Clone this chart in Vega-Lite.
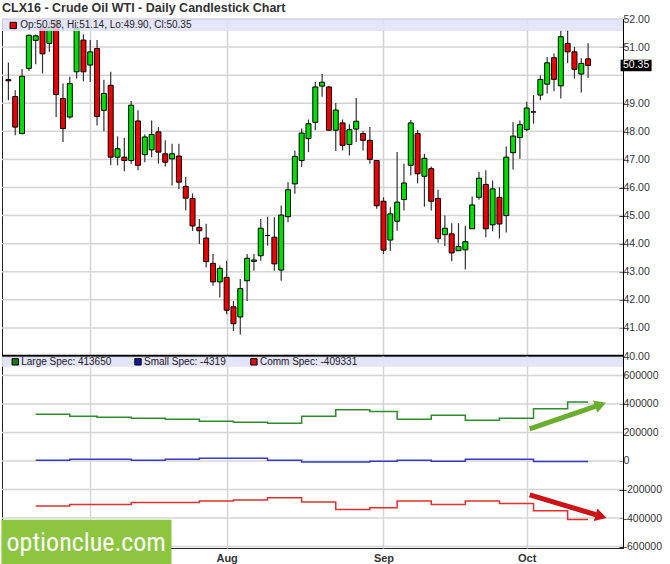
{
  "$schema": "https://vega.github.io/schema/vega-lite/v6.json",
  "background": "white",
  "padding": {"left": 0, "top": 2, "right": 0, "bottom": 0},
  "bounds": "flush",
  "title": {"text": "CLX16 - Crude Oil WTI - Daily Candlestick Chart", "anchor": "start", "fontSize": 12.5, "fontWeight": "bold", "font": "Liberation Sans", "color": "#333", "offset": -1, "frame": "group"},
  "config": {
    "font": "Liberation Sans",
    "view": {"stroke": "#222", "strokeWidth": 1},
    "axis": {"labelFont": "Liberation Sans", "labelFontSize": 10.5, "labelColor": "#333", "gridColor": "#d4d4d4", "gridWidth": 1.5, "gridOpacity": 1, "domainColor": "#000", "tickColor": "#000", "labelOverlap": false}
  },
  "datasets": {
    "candles": [
      {"date": "2016-06-15", "open": 49.84, "high": 50.45, "low": 49.11, "close": 49.80},
      {"date": "2016-06-16", "open": 49.24, "high": 49.46, "low": 47.86, "close": 48.15},
      {"date": "2016-06-17", "open": 47.92, "high": 50.22, "low": 47.90, "close": 49.96},
      {"date": "2016-06-20", "open": 50.24, "high": 51.45, "low": 50.15, "close": 51.42},
      {"date": "2016-06-21", "open": 51.24, "high": 51.45, "low": 50.39, "close": 51.40},
      {"date": "2016-06-22", "open": 51.70, "high": 51.95, "low": 50.06, "close": 50.76},
      {"date": "2016-06-23", "open": 51.13, "high": 51.90, "low": 50.83, "close": 51.70},
      {"date": "2016-06-24", "open": 51.95, "high": 52.00, "low": 48.51, "close": 49.31},
      {"date": "2016-06-27", "open": 49.17, "high": 49.70, "low": 47.62, "close": 48.10},
      {"date": "2016-06-28", "open": 48.51, "high": 49.94, "low": 48.45, "close": 49.70},
      {"date": "2016-06-29", "open": 50.12, "high": 51.80, "low": 49.88, "close": 51.67},
      {"date": "2016-06-30", "open": 51.25, "high": 51.45, "low": 49.78, "close": 50.12},
      {"date": "2016-07-01", "open": 50.36, "high": 51.25, "low": 49.76, "close": 50.83},
      {"date": "2016-07-05", "open": 50.95, "high": 51.25, "low": 48.21, "close": 48.53},
      {"date": "2016-07-06", "open": 48.75, "high": 49.84, "low": 48.00, "close": 49.35},
      {"date": "2016-07-07", "open": 49.64, "high": 50.12, "low": 46.79, "close": 47.08},
      {"date": "2016-07-08", "open": 47.08, "high": 47.82, "low": 46.79, "close": 47.38},
      {"date": "2016-07-11", "open": 47.08, "high": 47.77, "low": 46.58, "close": 46.96},
      {"date": "2016-07-12", "open": 46.96, "high": 49.08, "low": 46.85, "close": 48.93},
      {"date": "2016-07-13", "open": 48.37, "high": 48.75, "low": 46.61, "close": 46.79},
      {"date": "2016-07-14", "open": 47.17, "high": 47.89, "low": 46.90, "close": 47.80},
      {"date": "2016-07-15", "open": 47.34, "high": 48.39, "low": 47.08, "close": 47.89},
      {"date": "2016-07-18", "open": 47.98, "high": 48.15, "low": 46.85, "close": 47.26},
      {"date": "2016-07-19", "open": 47.20, "high": 47.68, "low": 46.75, "close": 46.90},
      {"date": "2016-07-20", "open": 47.02, "high": 47.56, "low": 46.07, "close": 47.20},
      {"date": "2016-07-21", "open": 47.12, "high": 47.56, "low": 45.95, "close": 46.19},
      {"date": "2016-07-22", "open": 46.04, "high": 46.37, "low": 45.18, "close": 45.62},
      {"date": "2016-07-25", "open": 45.61, "high": 45.79, "low": 44.45, "close": 44.63},
      {"date": "2016-07-26", "open": 44.58, "high": 44.88, "low": 43.99, "close": 44.46},
      {"date": "2016-07-27", "open": 44.20, "high": 44.71, "low": 43.15, "close": 43.36},
      {"date": "2016-07-28", "open": 43.30, "high": 43.63, "low": 42.50, "close": 42.64},
      {"date": "2016-07-29", "open": 42.64, "high": 43.21, "low": 42.08, "close": 43.12},
      {"date": "2016-08-01", "open": 42.80, "high": 43.39, "low": 41.49, "close": 41.63},
      {"date": "2016-08-02", "open": 41.75, "high": 41.96, "low": 40.89, "close": 41.15},
      {"date": "2016-08-03", "open": 41.39, "high": 42.74, "low": 40.77, "close": 42.40},
      {"date": "2016-08-04", "open": 42.68, "high": 43.63, "low": 41.96, "close": 43.48},
      {"date": "2016-08-05", "open": 43.37, "high": 43.63, "low": 43.04, "close": 43.42},
      {"date": "2016-08-08", "open": 43.57, "high": 44.88, "low": 43.39, "close": 44.55},
      {"date": "2016-08-09", "open": 44.29, "high": 44.96, "low": 43.93, "close": 44.29},
      {"date": "2016-08-10", "open": 44.23, "high": 44.94, "low": 43.04, "close": 43.28},
      {"date": "2016-08-11", "open": 43.06, "high": 45.36, "low": 42.68, "close": 45.02},
      {"date": "2016-08-12", "open": 44.96, "high": 46.19, "low": 44.76, "close": 45.92},
      {"date": "2016-08-15", "open": 46.13, "high": 47.32, "low": 45.78, "close": 47.11},
      {"date": "2016-08-16", "open": 46.96, "high": 48.10, "low": 46.73, "close": 47.94},
      {"date": "2016-08-17", "open": 47.74, "high": 48.42, "low": 47.26, "close": 48.27},
      {"date": "2016-08-18", "open": 48.32, "high": 49.76, "low": 48.04, "close": 49.58},
      {"date": "2016-08-19", "open": 49.61, "high": 50.04, "low": 49.23, "close": 49.75},
      {"date": "2016-08-22", "open": 49.58, "high": 49.62, "low": 48.02, "close": 48.04},
      {"date": "2016-08-23", "open": 48.04, "high": 49.01, "low": 47.30, "close": 48.76},
      {"date": "2016-08-24", "open": 48.30, "high": 48.42, "low": 47.32, "close": 47.50},
      {"date": "2016-08-25", "open": 47.53, "high": 48.25, "low": 47.14, "close": 48.06},
      {"date": "2016-08-26", "open": 48.08, "high": 49.19, "low": 47.62, "close": 48.36},
      {"date": "2016-08-29", "open": 47.92, "high": 48.00, "low": 47.32, "close": 47.68},
      {"date": "2016-08-30", "open": 47.68, "high": 48.15, "low": 46.85, "close": 47.00},
      {"date": "2016-08-31", "open": 46.96, "high": 46.98, "low": 45.24, "close": 45.35},
      {"date": "2016-09-01", "open": 45.51, "high": 45.65, "low": 43.63, "close": 43.77},
      {"date": "2016-09-02", "open": 44.13, "high": 45.30, "low": 43.75, "close": 45.06},
      {"date": "2016-09-06", "open": 44.80, "high": 47.26, "low": 44.46, "close": 45.48},
      {"date": "2016-09-07", "open": 45.57, "high": 46.85, "low": 45.18, "close": 46.16},
      {"date": "2016-09-08", "open": 46.79, "high": 48.40, "low": 46.43, "close": 48.30},
      {"date": "2016-09-09", "open": 47.92, "high": 48.04, "low": 46.15, "close": 46.49},
      {"date": "2016-09-12", "open": 46.40, "high": 47.20, "low": 45.32, "close": 47.04},
      {"date": "2016-09-13", "open": 46.67, "high": 46.75, "low": 45.18, "close": 45.51},
      {"date": "2016-09-14", "open": 45.61, "high": 45.92, "low": 44.03, "close": 44.18},
      {"date": "2016-09-15", "open": 44.32, "high": 45.00, "low": 43.91, "close": 44.55},
      {"date": "2016-09-16", "open": 44.35, "high": 44.73, "low": 43.37, "close": 43.67},
      {"date": "2016-09-19", "open": 43.75, "high": 44.73, "low": 43.75, "close": 43.90},
      {"date": "2016-09-20", "open": 43.78, "high": 44.64, "low": 43.08, "close": 44.07},
      {"date": "2016-09-21", "open": 44.53, "high": 45.68, "low": 44.53, "close": 45.38},
      {"date": "2016-09-22", "open": 45.65, "high": 46.55, "low": 45.56, "close": 46.33},
      {"date": "2016-09-23", "open": 46.11, "high": 46.61, "low": 44.23, "close": 44.53},
      {"date": "2016-09-26", "open": 44.67, "high": 46.25, "low": 44.44, "close": 45.95},
      {"date": "2016-09-27", "open": 45.65, "high": 46.01, "low": 44.19, "close": 44.70},
      {"date": "2016-09-28", "open": 45.00, "high": 47.46, "low": 44.40, "close": 47.08},
      {"date": "2016-09-29", "open": 47.24, "high": 48.33, "low": 46.64, "close": 47.83},
      {"date": "2016-09-30", "open": 47.78, "high": 48.39, "low": 47.02, "close": 48.24},
      {"date": "2016-10-03", "open": 48.06, "high": 49.05, "low": 48.00, "close": 48.83},
      {"date": "2016-10-04", "open": 48.69, "high": 49.29, "low": 48.27, "close": 48.69},
      {"date": "2016-10-05", "open": 49.29, "high": 50.00, "low": 49.11, "close": 49.85},
      {"date": "2016-10-06", "open": 49.68, "high": 50.65, "low": 49.35, "close": 50.44},
      {"date": "2016-10-07", "open": 50.62, "high": 50.77, "low": 49.43, "close": 49.85},
      {"date": "2016-10-10", "open": 49.62, "high": 51.61, "low": 49.17, "close": 51.37},
      {"date": "2016-10-11", "open": 51.13, "high": 51.61, "low": 50.42, "close": 50.83},
      {"date": "2016-10-12", "open": 50.83, "high": 51.01, "low": 49.88, "close": 50.21},
      {"date": "2016-10-13", "open": 50.04, "high": 50.60, "low": 49.38, "close": 50.42},
      {"date": "2016-10-14", "open": 50.58, "high": 51.14, "low": 49.90, "close": 50.35}
    ],
    "cot": [
      {"date": "2016-06-21", "series": "Large Spec", "value": 328000},
      {"date": "2016-06-28", "series": "Large Spec", "value": 314000},
      {"date": "2016-07-05", "series": "Large Spec", "value": 307000},
      {"date": "2016-07-12", "series": "Large Spec", "value": 300000},
      {"date": "2016-07-19", "series": "Large Spec", "value": 293000},
      {"date": "2016-07-26", "series": "Large Spec", "value": 279000},
      {"date": "2016-08-02", "series": "Large Spec", "value": 272000},
      {"date": "2016-08-09", "series": "Large Spec", "value": 265000},
      {"date": "2016-08-16", "series": "Large Spec", "value": 314000},
      {"date": "2016-08-23", "series": "Large Spec", "value": 360000},
      {"date": "2016-08-30", "series": "Large Spec", "value": 347000},
      {"date": "2016-09-06", "series": "Large Spec", "value": 293000},
      {"date": "2016-09-13", "series": "Large Spec", "value": 321000},
      {"date": "2016-09-20", "series": "Large Spec", "value": 286000},
      {"date": "2016-09-27", "series": "Large Spec", "value": 300000},
      {"date": "2016-10-04", "series": "Large Spec", "value": 367000},
      {"date": "2016-10-11", "series": "Large Spec", "value": 413650},
      {"date": "2016-10-14", "series": "Large Spec", "value": 413650},
      {"date": "2016-06-21", "series": "Small Spec", "value": 4650},
      {"date": "2016-06-28", "series": "Small Spec", "value": 11600},
      {"date": "2016-07-05", "series": "Small Spec", "value": 11600},
      {"date": "2016-07-12", "series": "Small Spec", "value": 4650},
      {"date": "2016-07-19", "series": "Small Spec", "value": 11600},
      {"date": "2016-07-26", "series": "Small Spec", "value": 18600},
      {"date": "2016-08-02", "series": "Small Spec", "value": 18600},
      {"date": "2016-08-09", "series": "Small Spec", "value": 4650},
      {"date": "2016-08-16", "series": "Small Spec", "value": -7000},
      {"date": "2016-08-23", "series": "Small Spec", "value": -7000},
      {"date": "2016-08-30", "series": "Small Spec", "value": -2300},
      {"date": "2016-09-06", "series": "Small Spec", "value": 4650},
      {"date": "2016-09-13", "series": "Small Spec", "value": -2300},
      {"date": "2016-09-20", "series": "Small Spec", "value": 11600},
      {"date": "2016-09-27", "series": "Small Spec", "value": 11600},
      {"date": "2016-10-04", "series": "Small Spec", "value": -4000},
      {"date": "2016-10-11", "series": "Small Spec", "value": -4319},
      {"date": "2016-10-14", "series": "Small Spec", "value": -4319},
      {"date": "2016-06-21", "series": "Comm Spec", "value": -316000},
      {"date": "2016-06-28", "series": "Comm Spec", "value": -305000},
      {"date": "2016-07-05", "series": "Comm Spec", "value": -305000},
      {"date": "2016-07-12", "series": "Comm Spec", "value": -291000},
      {"date": "2016-07-19", "series": "Comm Spec", "value": -291000},
      {"date": "2016-07-26", "series": "Comm Spec", "value": -281000},
      {"date": "2016-08-02", "series": "Comm Spec", "value": -274000},
      {"date": "2016-08-09", "series": "Comm Spec", "value": -258000},
      {"date": "2016-08-16", "series": "Comm Spec", "value": -288000},
      {"date": "2016-08-23", "series": "Comm Spec", "value": -340000},
      {"date": "2016-08-30", "series": "Comm Spec", "value": -328000},
      {"date": "2016-09-06", "series": "Comm Spec", "value": -281000},
      {"date": "2016-09-13", "series": "Comm Spec", "value": -305000},
      {"date": "2016-09-20", "series": "Comm Spec", "value": -281000},
      {"date": "2016-09-27", "series": "Comm Spec", "value": -298000},
      {"date": "2016-10-04", "series": "Comm Spec", "value": -349000},
      {"date": "2016-10-11", "series": "Comm Spec", "value": -409331},
      {"date": "2016-10-14", "series": "Comm Spec", "value": -409331}
    ]
  },
  "resolve": {"scale": {"x": "shared"}},
  "spacing": 0,
  "vconcat": [
    {
      "width": 621,
      "height": 337,
      "data": {"name": "candles"},
      "resolve": {"axis": {"x": "independent", "y": "independent"}},
      "layer": [
        {
          "data": {"values": [{"level": 40}, {"level": 41}, {"level": 42}, {"level": 43}, {"level": 44}, {"level": 45}, {"level": 46}, {"level": 47}, {"level": 48}, {"level": 49}, {"level": 50}, {"level": 51}, {"level": 52}]},
          "mark": {"type": "rule", "color": "#d4d4d4", "strokeWidth": 1.5},
          "encoding": {"y": {"field": "level", "type": "quantitative", "axis": null}}
        },
        {
          "mark": {"type": "rule", "color": "#333", "strokeWidth": 1.2, "clip": true},
          "encoding": {
            "x": {"field": "date", "type": "ordinal", "scale": {"type": "point", "range": [3, 589.5]},
              "axis": {"title": null, "values": ["2016-07-01", "2016-08-01", "2016-09-01", "2016-10-03"], "labels": false, "ticks": false, "domain": false, "grid": true, "minExtent": 0, "maxExtent": 0, "labelPadding": 0}},
            "y": {"field": "low", "type": "quantitative", "scale": {"domain": [40, 52], "nice": false, "zero": false},
              "axis": {"orient": "right", "title": null, "values": [40, 41, 42, 43, 44, 45, 46, 47, 48, 49, 50, 51, 52], "labelExpr": "datum.value == 50 ? '' : format(datum.value, '.2f')", "labelOverlap": false, "grid": false, "domain": true, "ticks": true, "tickSize": -4, "labelPadding": 4}},
            "y2": {"field": "high"}
          }
        },
        {
          "mark": {"type": "bar", "size": 5, "stroke": "#000", "strokeWidth": 1, "clip": true},
          "encoding": {
            "x": {"field": "date", "type": "ordinal", "axis": null},
            "y": {"field": "open", "type": "quantitative", "axis": null},
            "y2": {"field": "close"},
            "fill": {"condition": {"test": "datum.close > datum.open", "value": "#00e000"}, "value": "#ee0000"}
          }
        },
        {
          "data": {"values": [{}]},
          "mark": {"type": "rect", "fill": "#e0e0f8", "opacity": 0.85},
          "encoding": {"y": {"datum": 52, "axis": null}, "y2": {"datum": 51.57}}
        },
        {
          "data": {"values": [{}]},
          "mark": {"type": "rule", "color": "#000", "strokeWidth": 2.5},
          "encoding": {"y": {"datum": 40, "axis": null}}
        },
        {
          "data": {"values": [{}]},
          "mark": {"type": "point", "shape": "square", "filled": true, "size": 40, "fill": "#ee0000", "stroke": "#000", "strokeWidth": 1, "opacity": 1, "xOffset": -2},
          "encoding": {"x": {"datum": "2016-06-16", "type": "ordinal", "axis": null}, "y": {"datum": 51.77, "axis": null}}
        },
        {
          "data": {"values": [{}]},
          "mark": {"type": "text", "align": "left", "baseline": "middle", "dx": 5, "fontSize": 10, "color": "#222"},
          "encoding": {"x": {"datum": "2016-06-16", "type": "ordinal", "axis": null}, "y": {"datum": 51.77, "axis": null}, "text": {"value": "Op:50.58, Hi:51.14, Lo:49.90, Cl:50.35"}}
        },
        {
          "data": {"values": [{}]},
          "mark": {"type": "bar", "size": 31, "xOffset": 48, "fill": "#000"},
          "encoding": {"x": {"datum": "2016-10-14", "type": "ordinal", "axis": null}, "y": {"datum": 50.55, "axis": null}, "y2": {"datum": 50.14}}
        },
        {
          "data": {"values": [{}]},
          "mark": {"type": "text", "align": "center", "baseline": "middle", "dx": 48, "fontSize": 10.5, "color": "#fff"},
          "encoding": {"x": {"datum": "2016-10-14", "type": "ordinal", "axis": null}, "y": {"datum": 50.35, "axis": null}, "text": {"value": "50.35"}}
        }
      ]
    },
    {
      "width": 621,
      "height": 192,
      "resolve": {"axis": {"x": "independent", "y": "independent"}},
      "layer": [
        {
          "data": {"values": [{"level": -600000}, {"level": -400000}, {"level": -200000}, {"level": 0}, {"level": 200000}, {"level": 400000}, {"level": 600000}]},
          "mark": {"type": "rule", "color": "#d4d4d4", "strokeWidth": 1.5},
          "encoding": {"y": {"field": "level", "type": "quantitative", "axis": null}}
        },
        {
          "data": {"name": "cot"},
          "mark": {"type": "line", "interpolate": "step-after", "strokeWidth": 1.5},
          "encoding": {
            "x": {"field": "date", "type": "ordinal", "scale": {"type": "point", "range": [3, 589.5]},
              "axis": {"title": null, "values": ["2016-07-01", "2016-08-01", "2016-09-01", "2016-10-03"], "labelExpr": "datum.value == '2016-07-01' ? '' : utcFormat(toDate(datum.value), '%b')", "labelAngle": 0, "labelAlign": "center", "labelBaseline": "top", "labelFontWeight": "bold", "labelFontSize": 11, "labelPadding": 4, "ticks": false, "grid": true, "domain": false, "zindex": 0}},
            "y": {"field": "value", "type": "quantitative", "scale": {"domain": [-610000, 736000], "nice": false, "zero": false},
              "axis": {"orient": "right", "title": null, "values": [-600000, -400000, -200000, 0, 200000, 400000, 600000], "labelExpr": "'' + datum.value", "labelOverlap": false, "grid": false, "domain": true, "ticks": true, "tickSize": -4, "labelPadding": 4, "zindex": 0}},
            "color": {"field": "series", "type": "nominal", "scale": {"domain": ["Large Spec", "Small Spec", "Comm Spec"], "range": ["#2e8b2e", "#3a3ac8", "#e23030"]}, "legend": null}
          }
        },
        {
          "data": {"values": [{}]},
          "mark": {"type": "rect", "fill": "#e0e0f8", "opacity": 0.9},
          "encoding": {"y": {"datum": 730000, "axis": null}, "y2": {"datum": 660000}}
        },
        {
          "data": {"values": [{}]},
          "mark": {"type": "point", "shape": "square", "filled": true, "size": 40, "fill": "#1a7a1a", "stroke": "#000", "strokeWidth": 1, "opacity": 1},
          "encoding": {"x": {"datum": "2016-06-16", "type": "ordinal", "axis": null}, "y": {"datum": 695000, "axis": null}}
        },
        {
          "data": {"values": [{}]},
          "mark": {"type": "text", "align": "left", "baseline": "middle", "dx": 6, "fontSize": 10, "color": "#222"},
          "encoding": {"x": {"datum": "2016-06-16", "type": "ordinal", "axis": null}, "y": {"datum": 695000, "axis": null}, "text": {"value": "Large Spec: 413650"}}
        },
        {
          "data": {"values": [{}]},
          "mark": {"type": "point", "shape": "square", "filled": true, "size": 40, "fill": "#1a1aa0", "stroke": "#000", "strokeWidth": 1, "opacity": 1},
          "encoding": {"x": {"datum": "2016-07-13", "type": "ordinal", "axis": null}, "y": {"datum": 695000, "axis": null}}
        },
        {
          "data": {"values": [{}]},
          "mark": {"type": "text", "align": "left", "baseline": "middle", "dx": 6, "fontSize": 10, "color": "#222"},
          "encoding": {"x": {"datum": "2016-07-13", "type": "ordinal", "axis": null}, "y": {"datum": 695000, "axis": null}, "text": {"value": "Small Spec: -4319"}}
        },
        {
          "data": {"values": [{}]},
          "mark": {"type": "point", "shape": "square", "filled": true, "size": 40, "fill": "#dd1111", "stroke": "#000", "strokeWidth": 1, "opacity": 1},
          "encoding": {"x": {"datum": "2016-08-05", "type": "ordinal", "axis": null}, "y": {"datum": 695000, "axis": null}}
        },
        {
          "data": {"values": [{}]},
          "mark": {"type": "text", "align": "left", "baseline": "middle", "dx": 6, "fontSize": 10, "color": "#222"},
          "encoding": {"x": {"datum": "2016-08-05", "type": "ordinal", "axis": null}, "y": {"datum": 695000, "axis": null}, "text": {"value": "Comm Spec: -409331"}}
        },
        {
          "data": {"values": [{}]},
          "mark": {"type": "rule", "color": "#6aae2e", "strokeWidth": 5, "xOffset": 3, "x2Offset": 8},
          "encoding": {"x": {"datum": "2016-10-03", "type": "ordinal", "axis": null}, "x2": {"datum": "2016-10-14"}, "y": {"datum": 225000, "axis": null}, "y2": {"datum": 383800}}
        },
        {
          "data": {"values": [{}]},
          "mark": {"type": "point", "shape": "triangle-up", "filled": true, "size": 170, "fill": "#6aae2e", "opacity": 1, "angle": 70.5, "xOffset": 12.5},
          "encoding": {"x": {"datum": "2016-10-14", "type": "ordinal", "axis": null}, "y": {"datum": 394400, "axis": null}}
        },
        {
          "data": {"values": [{}]},
          "mark": {"type": "rule", "color": "#cc1414", "strokeWidth": 5, "xOffset": 3, "x2Offset": 8},
          "encoding": {"x": {"datum": "2016-10-03", "type": "ordinal", "axis": null}, "x2": {"datum": "2016-10-14"}, "y": {"datum": -238000, "axis": null}, "y2": {"datum": -376800}}
        },
        {
          "data": {"values": [{}]},
          "mark": {"type": "point", "shape": "triangle-up", "filled": true, "size": 170, "fill": "#cc1414", "opacity": 1, "angle": 106, "xOffset": 13},
          "encoding": {"x": {"datum": "2016-10-14", "type": "ordinal", "axis": null}, "y": {"datum": -388000, "axis": null}}
        },
        {
          "data": {"values": [{}]},
          "mark": {"type": "rect", "fill": "#8cc63f", "xOffset": -7, "x2Offset": -0.6},
          "encoding": {"x": {"datum": "2016-06-15", "type": "ordinal", "axis": null}, "x2": {"datum": "2016-07-20"}, "y": {"datum": -412000, "axis": null}, "y2": {"datum": -740000}}
        },
        {
          "data": {"values": [{}]},
          "mark": {"type": "text", "align": "center", "baseline": "middle", "dx": -4, "font": "Liberation Sans Narrow, Roboto Condensed, DejaVu Sans Condensed, Liberation Sans", "fontSize": 26, "color": "#fff"},
          "encoding": {"x": {"datum": "2016-07-01", "type": "ordinal", "axis": null}, "y": {"datum": -574000, "axis": null}, "text": {"value": "optionclue.com"}}
        }
      ]
    }
  ]
}
